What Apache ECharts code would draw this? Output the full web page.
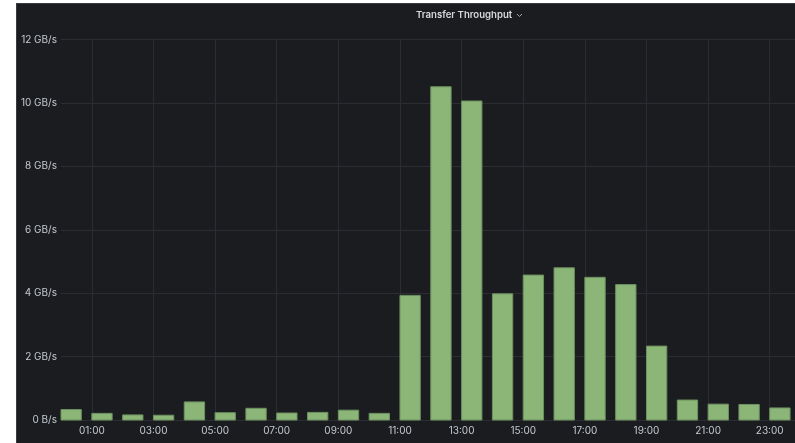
<!DOCTYPE html>
<html>
<head>
<meta charset="utf-8">
<script src="https://cdn.jsdelivr.net/npm/echarts@6/dist/echarts.min.js"></script>
<style>
  html, body { margin: 0; padding: 0; background: #ffffff; }
  #chart { width: 795px; height: 443px; }
</style>
</head>
<body>
<div id="chart"></div>
<script>
// ---- data ----
const hourLabels = ['00:00','01:00','02:00','03:00','04:00','05:00','06:00','07:00','08:00','09:00','10:00','11:00',
                    '12:00','13:00','14:00','15:00','16:00','17:00','18:00','19:00','20:00','21:00','22:00','23:00'];
const hours = [0,1,2,3,4,5,6,7,8,9,10,11,12,13,14,15,16,17,18,19,20,21,22,23];
// throughput in GB/s
const throughput = [0.33,0.21,0.16,0.15,0.57,0.23,0.37,0.22,0.24,0.31,0.21,3.93,
                    10.51,10.06,3.98,4.57,4.80,4.50,4.27,2.33,0.63,0.50,0.49,0.38];
const yTicks = [0, 2, 4, 6, 8, 10, 12];
const titleText = 'Transfer Throughput';

// ---- style ----
const BAR_SPAN = 0.66;          // fraction of an hour covered by a bar (starts at the hour)
const panelBg = '#1b1c20';
const gridColor = '#2c2d32';
const labelColor = '#c4c9d0';

const chart = echarts.init(document.getElementById('chart'), null, { renderer: 'canvas' });

const option = {
  backgroundColor: panelBg,
  animation: false,
  textStyle: { fontFamily: 'Inter, "Open Sans", sans-serif' },
  graphic: [
    { type: 'rect', left: 0, top: 0, shape: { x: 0, y: 0, width: 16, height: 443 }, style: { fill: '#ffffff' }, silent: true },
    { type: 'rect', left: 0, top: 0, shape: { x: 0, y: 0, width: 795, height: 3 }, style: { fill: '#ffffff' }, silent: true },
    { type: 'line', shape: { x1: 16.5, y1: 3.5, x2: 795, y2: 3.5 }, style: { stroke: '#3a3b40', lineWidth: 1 }, silent: true },
    { type: 'line', shape: { x1: 16.5, y1: 3.5, x2: 16.5, y2: 443 }, style: { stroke: '#3a3b40', lineWidth: 1 }, silent: true },
    { type: 'text', x: 416, y: 15, style: { text: titleText, fill: '#d8d9da', font: '600 9.6px Inter, sans-serif', textVerticalAlign: 'middle' }, silent: true },
    { type: 'polyline', shape: { points: [[517, 14], [519.5, 16.5], [522, 14]] }, style: { stroke: '#a0a1a6', lineWidth: 1, fill: 'none' }, silent: true, z: 10 }
  ],
  grid: { left: 61, right: 0, top: 39.5, bottom: 23, containLabel: false },
  xAxis: {
    type: 'value',
    min: 0,
    max: 23.82,
    interval: 1,
    axisLine: { show: false },
    axisTick: { show: false },
    axisLabel: {
      color: labelColor,
      fontSize: 10,
      margin: 6,
      showMaxLabel: false,
      formatter: function (v) {
        const i = hours.indexOf(v);
        return (i >= 0 && v % 2 === 1) ? hourLabels[i] : '';
      }
    },
    splitLine: { show: true, lineStyle: { color: ['rgba(0,0,0,0)', gridColor], width: 1 } }
  },
  yAxis: {
    type: 'value',
    min: yTicks[0],
    max: yTicks[yTicks.length - 1],
    interval: 2,
    axisLine: { show: false },
    axisTick: { show: false },
    axisLabel: {
      color: labelColor,
      fontSize: 10,
      margin: 4,
      formatter: function (v) { return v === 0 ? '0 B/s' : v + ' GB/s'; }
    },
    splitLine: { show: true, lineStyle: { color: gridColor, width: 1 } }
  },
  series: [{
    type: 'custom',
    name: 'Throughput',
    encode: { x: 0, y: 1 },
    data: hours.map(function (h, i) { return [h, throughput[i]]; }),
    renderItem: function (params, api) {
      const h = api.value(0), v = api.value(1);
      const p0 = api.coord([h, v]);
      const p1 = api.coord([h + BAR_SPAN, 0]);
      return {
        type: 'rect',
        shape: { x: p0[0], y: p0[1], width: p1[0] - p0[0], height: p1[1] - p0[1] },
        style: { fill: '#8cb578', stroke: '#6c9160', lineWidth: 1 }
      };
    }
  }]
};

chart.setOption(option);
</script>
</body>
</html>
